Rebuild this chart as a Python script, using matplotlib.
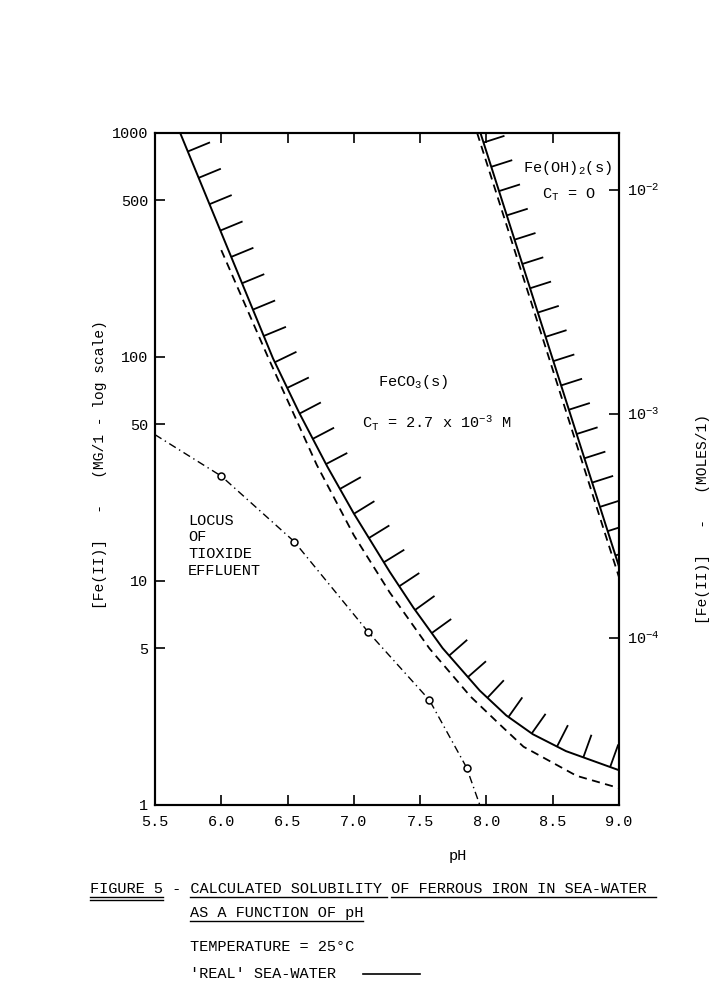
import numpy as np
import matplotlib.pyplot as plt
from matplotlib.lines import Line2D
from matplotlib.ticker import FixedLocator, NullLocator

plt.rcParams["font.family"] = ["Liberation Mono", "DejaVu Sans Mono"]
plt.rcParams["mathtext.fontset"] = "custom"
plt.rcParams["mathtext.rm"] = "Liberation Mono"
plt.rcParams["mathtext.it"] = "Liberation Mono"
plt.rcParams["mathtext.default"] = "rm"

FE_MG_PER_MOLE = 55850.0

# FeCO3(s), C_T = 2.7e-3 M : 'real' sea-water (solid) and ideal (dashed), mg/l
feco3_ph = [5.69, 6.39, 6.59, 6.80, 7.00, 7.27, 7.45, 7.67, 7.95, 8.15, 8.35, 8.60, 9.00]
feco3_real = [1000, 98.6, 56.0, 32.4, 20.0, 11.0, 7.59, 5.01, 3.24, 2.51, 2.07, 1.74, 1.43]
feco3_ideal_ph = [6.00, 6.355, 6.72, 7.00, 7.27, 7.57, 7.88, 8.10, 8.28, 8.68, 9.00]
feco3_ideal = [300, 99, 33, 16, 8.9, 5.0, 3.05, 2.29, 1.82, 1.35, 1.19]

# Fe(OH)2(s), C_T = 0
feoh2_ph = [7.955, 9.00]
feoh2_real = [1000, 11.6]
feoh2_ideal_ph = [7.93, 9.00]
feoh2_ideal = [1000, 10.4]

# locus of Tioxide effluent (measured points are circled)
effluent_ph = [5.50, 6.00, 6.55, 7.11, 7.57, 7.85, 7.95]
effluent = [45, 29.4, 15.0, 5.9, 2.94, 1.47, 1.0]
sample_ph = [6.00, 6.55, 7.11, 7.57, 7.85]
sample_fe = [29.4, 15.0, 5.9, 2.94, 1.47]

x_ticks = [5.5, 6.0, 6.5, 7.0, 7.5, 8.0, 8.5, 9.0]
y_ticks = [1, 5, 10, 50, 100, 500, 1000]
molar_ticks = [1e-4, 1e-3, 1e-2]
molar_labels = ["10$^{-4}$", "10$^{-3}$", "10$^{-2}$"]

W, H = 717, 989
FS = 11


def add_hatches(ax, xs, ys, spacing, length, offset):
    pts = ax.transData.transform(np.column_stack([xs, ys]))
    seg = np.diff(pts, axis=0)
    seg_len = np.hypot(seg[:, 0], seg[:, 1])
    cum = np.concatenate([[0.0], np.cumsum(seg_len)])
    inv = ax.transData.inverted()
    for s in np.arange(offset, cum[-1] - 4, spacing):
        i = min(np.searchsorted(cum, s, side="right") - 1, len(seg) - 1)
        t = seg[i] / seg_len[i]
        base = pts[i] + t * (s - cum[i])
        tip = base + length * np.array([-t[1], t[0]])
        (x0, y0), (x1, y1) = inv.transform([base, tip])
        ax.plot([x0, x1], [y0, y1], color="black", lw=1.3, solid_capstyle="butt")


def underline(fig, txt, renderer, start, stop, drop):
    bb = txt.get_window_extent(renderer)
    cw = bb.width / len(txt.get_text())
    x0 = bb.x0 + start * cw
    x1 = bb.x0 + stop * cw
    y = txt_baseline[txt] - drop
    fig.add_artist(Line2D([x0 / W, x1 / W], [y / H, y / H], transform=fig.transFigure,
                          color="black", lw=1.0))


fig = plt.figure(figsize=(W / 100, H / 100), dpi=100)
ax = fig.add_axes([155 / W, 1 - 805 / H, 464 / W, 672 / H])
ax.set_yscale("log")
ax.set_xlim(5.5, 9.0)
ax.set_ylim(1, 1000)

ax.plot(feco3_ph, feco3_real, color="black", lw=1.4)
ax.plot(feco3_ideal_ph, feco3_ideal, color="black", lw=1.3, linestyle=(0, (4.5, 3)))
ax.plot(feoh2_ph, feoh2_real, color="black", lw=1.4)
ax.plot(feoh2_ideal_ph, feoh2_ideal, color="black", lw=1.3, linestyle=(0, (4.5, 3)))
ax.plot(effluent_ph, effluent, color="black", lw=1.0, linestyle=(0, (5.5, 2.8, 1, 2.8)))
ax.plot(sample_ph, sample_fe, linestyle="none", marker="o", markersize=5,
        markerfacecolor="white", markeredgecolor="black", markeredgewidth=1.1)

add_hatches(ax, feco3_ph, feco3_real, spacing=28.5, length=24, offset=20)
add_hatches(ax, feoh2_ph, feoh2_real, spacing=25.5, length=22, offset=10)

ax.text(7.18, 77, "FeCO$_3$(s)", fontsize=FS, ha="left", va="center")
ax.text(7.06, 51, "C$_T$ = 2.7 x 10$^{-3}$ M", fontsize=FS, ha="left", va="center")
ax.text(8.275, 700, "Fe(OH)$_2$(s)", fontsize=FS, ha="left", va="center")
ax.text(8.418, 530, "C$_T$ = O", fontsize=FS, ha="left", va="center")
ax.text(5.749, 20, "LOCUS\nOF\nTIOXIDE\nEFFLUENT", fontsize=FS, ha="left", va="top",
        linespacing=1.25)

ax.xaxis.set_major_locator(FixedLocator(x_ticks))
ax.set_xticklabels([f"{v:.1f}" for v in x_ticks], fontsize=FS)
ax.yaxis.set_major_locator(FixedLocator(y_ticks))
ax.yaxis.set_minor_locator(NullLocator())
ax.set_yticklabels([str(v) for v in y_ticks], fontsize=FS)
ax.tick_params(axis="x", direction="in", top=True, length=7, width=1.2, pad=7)
ax.tick_params(axis="y", direction="in", length=7, width=1.2, pad=5)

ax.set_xlabel("pH", fontsize=FS)
ax.xaxis.set_label_coords(0.653, -0.0655)
ax.set_ylabel("[Fe(II)]   -   (MG/1 - log scale)", fontsize=10.5)
ax.yaxis.set_label_coords(-0.104, 0.507)

ax2 = ax.twinx()
ax2.set_yscale("log")
ax2.set_ylim(1 / FE_MG_PER_MOLE, 1000 / FE_MG_PER_MOLE)
ax2.yaxis.set_major_locator(FixedLocator(molar_ticks))
ax2.yaxis.set_minor_locator(NullLocator())
ax2.set_yticklabels(molar_labels, fontsize=FS)
ax2.tick_params(axis="y", direction="in", length=7, width=1.2, pad=6)
ax2.set_ylabel("[Fe(II)]   -   (MOLES/1)", fontsize=10.5, rotation=90)
ax2.yaxis.set_label_coords(1.166, 0.426)

for a in (ax, ax2):
    for sp in a.spines.values():
        sp.set_linewidth(1.5)

# caption block
txt_baseline = {}
caption = [
    ("FIGURE 5 - CALCULATED SOLUBILITY OF FERROUS IRON IN SEA-WATER", 90, 893),
    ("AS A FUNCTION OF pH", 190, 917),
    ("TEMPERATURE = 25°C", 190, 951),
    ("'REAL' SEA-WATER", 190, 978),
]
texts = []
for s, x, y in caption:
    t = fig.text(x / W, 1 - y / H, s, fontsize=10.95, ha="left", va="baseline")
    txt_baseline[t] = H - y
    texts.append(t)

renderer = fig.canvas.get_renderer()
underline(fig, texts[0], renderer, 0, 8, 4)
underline(fig, texts[0], renderer, 0, 8, 7)
underline(fig, texts[0], renderer, 11, 32.6, 4)
underline(fig, texts[0], renderer, 33, 62, 4)
underline(fig, texts[1], renderer, 0, 19, 4)
bb = texts[3].get_window_extent(renderer)
cw = bb.width / len(texts[3].get_text())
ly = txt_baseline[texts[3]] + 4
fig.add_artist(Line2D([(bb.x1 + 3 * cw) / W, (bb.x1 + 9.2 * cw) / W], [ly / H, ly / H],
                      transform=fig.transFigure, color="black", lw=1.2))

fig.savefig("out.png", dpi=100)
